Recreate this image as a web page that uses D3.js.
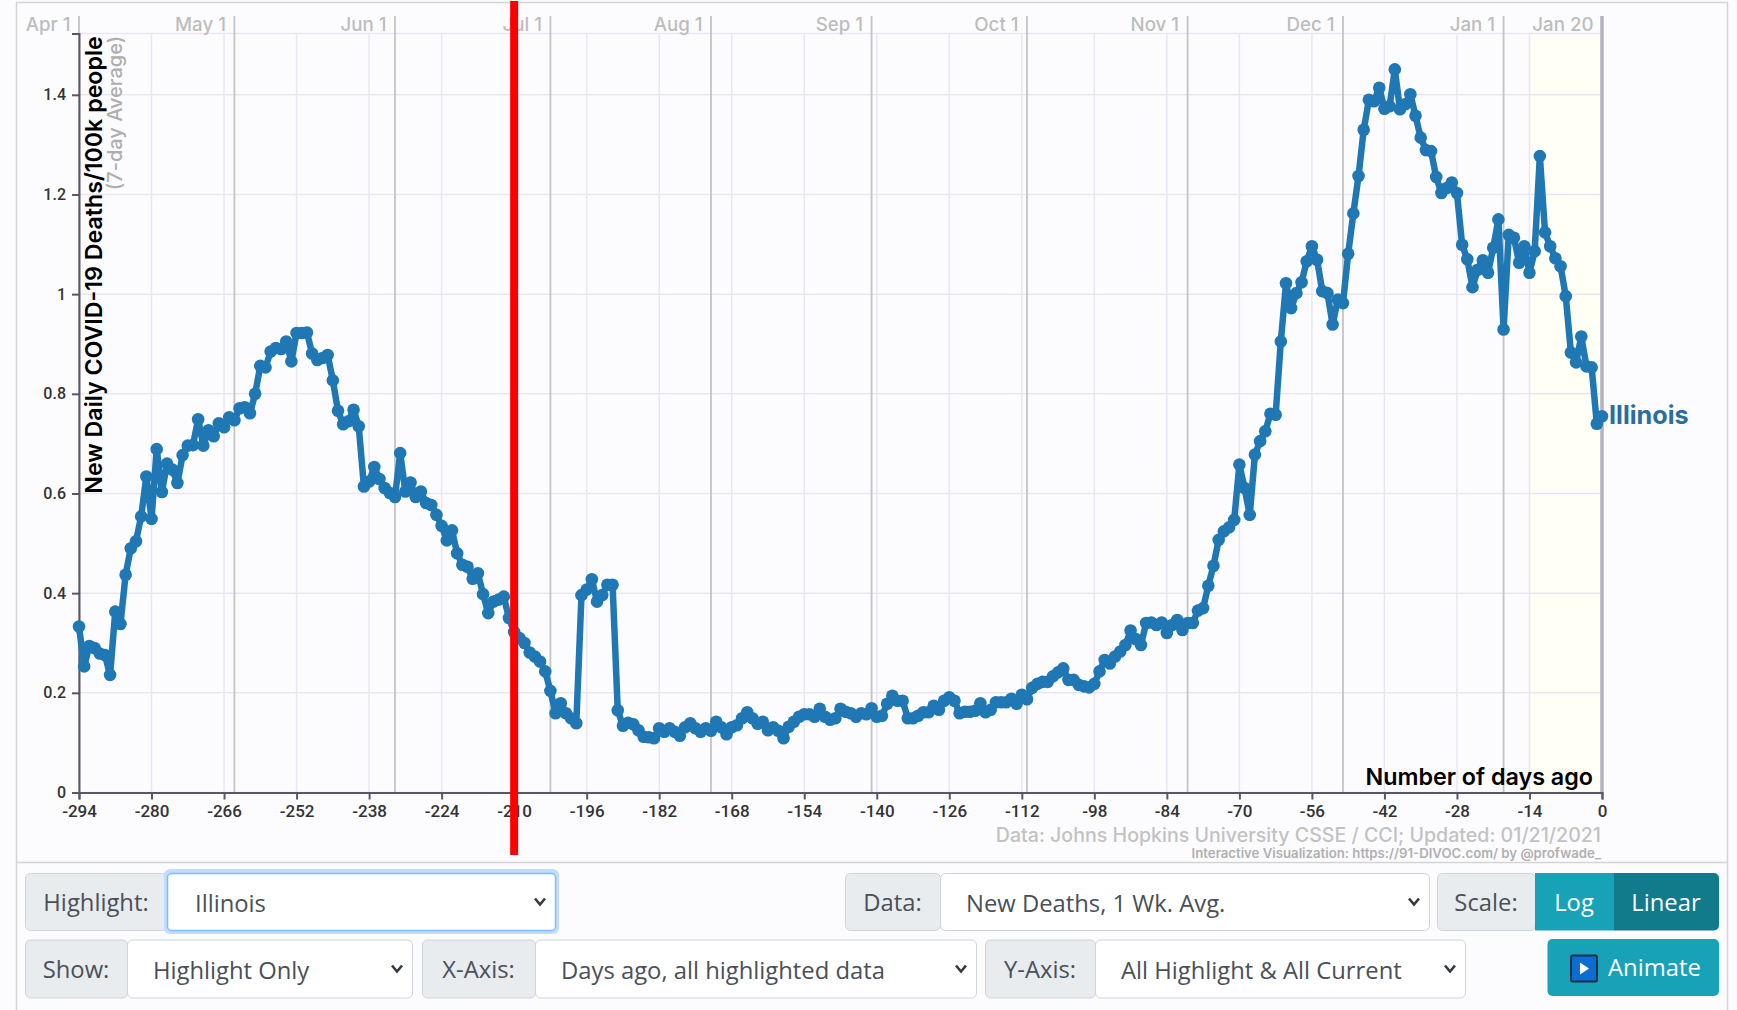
<!DOCTYPE html>
<html>
<head>
<meta charset="utf-8">
<script src="https://cdn.jsdelivr.net/npm/d3@7"></script>
<style>
html,body{margin:0;padding:0;background:#fcfcff;overflow:hidden}
svg{display:block}
text{font-family:Inter,"Noto Sans",sans-serif}
.tick text{font-family:Roboto,sans-serif;font-weight:500;fill:#333}
.ui{font-family:"Open Sans",sans-serif;font-size:23.8px;fill:#495057}
</style>
</head>
<body>
<svg id="c" width="1737" height="1010"></svg>
<script>
const seriesName = "Illinois";
// New deaths per 100k, 7-day average, from 294 days ago to today
const deaths = [
0.333,0.253,0.294,0.290,0.279,0.276,0.236,0.363,0.338,0.437,0.490,0.504,0.554,0.634,0.549,
0.689,0.603,0.660,0.648,0.621,0.677,0.696,0.697,0.749,0.696,0.727,0.715,0.741,0.733,0.753,
0.747,0.771,0.773,0.761,0.800,0.856,0.853,0.885,0.892,0.890,0.905,0.865,0.922,0.922,0.923,
0.881,0.868,0.872,0.878,0.827,0.766,0.739,0.745,0.768,0.735,0.614,0.624,0.653,0.629,0.611,
0.601,0.593,0.681,0.604,0.622,0.593,0.604,0.581,0.577,0.557,0.535,0.506,0.526,0.480,0.457,
0.453,0.429,0.440,0.398,0.360,0.383,0.387,0.393,0.350,0.322,0.310,0.300,0.281,0.273,0.263,
0.243,0.204,0.159,0.179,0.159,0.149,0.139,0.396,0.407,0.428,0.383,0.396,0.417,0.417,0.165,
0.134,0.140,0.137,0.125,0.112,0.111,0.109,0.129,0.122,0.129,0.122,0.114,0.131,0.139,0.129,
0.122,0.129,0.124,0.142,0.131,0.117,0.131,0.135,0.149,0.161,0.149,0.138,0.142,0.125,0.131,
0.124,0.109,0.132,0.142,0.152,0.157,0.157,0.152,0.168,0.152,0.146,0.149,0.168,0.162,0.159,
0.152,0.159,0.157,0.169,0.152,0.154,0.178,0.194,0.184,0.184,0.149,0.149,0.154,0.161,0.161,
0.174,0.166,0.184,0.191,0.184,0.159,0.162,0.162,0.164,0.179,0.161,0.166,0.181,0.181,0.181,
0.188,0.178,0.196,0.187,0.210,0.218,0.222,0.222,0.233,0.241,0.249,0.226,0.226,0.216,0.213,
0.211,0.218,0.243,0.266,0.259,0.273,0.283,0.296,0.325,0.308,0.296,0.340,0.341,0.336,0.341,
0.320,0.336,0.346,0.326,0.340,0.340,0.365,0.370,0.415,0.455,0.507,0.524,0.532,0.547,0.658,
0.611,0.557,0.678,0.705,0.725,0.760,0.758,0.905,1.022,0.972,1.002,1.024,1.066,1.096,1.069,
1.006,1.002,0.939,0.989,0.982,1.081,1.162,1.237,1.330,1.390,1.387,1.414,1.372,1.377,1.451,
1.371,1.381,1.401,1.358,1.314,1.289,1.287,1.235,1.203,1.213,1.224,1.203,1.099,1.070,1.014,
1.049,1.068,1.043,1.093,1.150,0.929,1.119,1.113,1.063,1.096,1.043,1.086,1.277,1.124,1.096,
1.072,1.056,0.996,0.883,0.863,0.915,0.855,0.853,0.740,0.755];
const xTicks = d3.range(-294, 1, 14);
const yTicks = [0, 0.2, 0.4, 0.6, 0.8, 1, 1.2, 1.4];
const monthLabels = ["Apr 1","May 1","Jun 1","Jul 1","Aug 1","Sep 1","Oct 1","Nov 1","Dec 1","Jan 1","Jan 20"];
const monthDays = [-294,-264,-233,-203,-172,-141,-111,-80,-50,-19,0];
const markerDay = -210;
const recentBand = [-14, 0];
const yTop = 1.523;

const svg = d3.select("#c");
const x = d3.scaleLinear().domain([-294, 0]).range([79, 1602]);
const y = d3.scaleLinear().domain([0, yTop]).range([792.5, 33.5]);
const points = deaths.map((v, i) => ({ day: i - 294, v }));
const yMonthTop = 16;

// card frame
svg.append("rect").attr("x",16.5).attr("y",2.5).attr("width",1711).attr("height",1020)
  .attr("fill","#fcfcff").attr("stroke","#d4d4d4").attr("stroke-width",1.5);
svg.append("line").attr("x1",16).attr("x2",1728).attr("y1",862.5).attr("y2",862.5)
  .attr("stroke","#d4d4d4").attr("stroke-width",1.5);

// recent band
svg.append("rect").attr("x",x(recentBand[0])).attr("y",y(yTop))
  .attr("width",x(recentBand[1])-x(recentBand[0])).attr("height",y(0)-y(yTop)).attr("fill","#fffff6");

// grid
const gridColor = "#ebe5f2";
svg.append("g").selectAll("line").data(xTicks).join("line")
  .attr("x1",d=>x(d)).attr("x2",d=>x(d)).attr("y1",y(yTop)).attr("y2",y(0))
  .attr("stroke",gridColor).attr("stroke-width",1.5);
svg.append("g").selectAll("line").data(yTicks.concat([yTop])).join("line")
  .attr("x1",x(-294)).attr("x2",x(0)).attr("y1",d=>y(d)).attr("y2",d=>y(d))
  .attr("stroke",gridColor).attr("stroke-width",1.5);

// month lines
const mg = svg.append("g");
mg.selectAll("line").data(monthDays).join("line")
  .attr("x1",d=>x(d)).attr("x2",d=>x(d)).attr("y1",yMonthTop).attr("y2",y(0))
  .attr("stroke",d=>d===0?"#b4b0bd":"#c4c4c4").attr("stroke-width",d=>d===0?3.5:1.8);
mg.selectAll("text").data(monthDays).join("text")
  .attr("x",d=>x(d)-8.5).attr("y",31).attr("text-anchor","end")
  .attr("font-size",18.7).attr("font-weight",500).attr("fill","#bdbdbd")
  .text((d,i)=>monthLabels[i]);

// axes
const gx = svg.append("g").attr("transform",`translate(0,${y(0)})`)
  .call(d3.axisBottom(x).tickValues(xTicks).tickFormat(d=>d).tickSizeOuter(0).tickSize(7).tickPadding(5));
const gy = svg.append("g").attr("transform",`translate(${x(-294)},0)`)
  .call(d3.axisLeft(y).tickValues(yTicks).tickFormat(d=>d).tickSize(7).tickPadding(6));
gx.selectAll(".domain,.tick line").attr("stroke","#5a5666").attr("stroke-width",2);
gy.selectAll(".domain,.tick line").attr("stroke","#5a5666").attr("stroke-width",2);
gx.selectAll(".tick text").attr("font-size",17);
gy.selectAll(".tick text").attr("font-size",16);

// axis titles
svg.append("text").attr("transform",`translate(102,265) rotate(-90)`).attr("text-anchor","middle")
  .attr("font-size",23.2).attr("font-weight",600).attr("fill","#000")
  .text("New Daily COVID-19 Deaths/100k people");
svg.append("text").attr("transform",`translate(122,113) rotate(-90)`).attr("text-anchor","middle")
  .attr("font-size",20).attr("font-weight",500).attr("fill","#aeaeae")
  .text("(7-day Average)");
svg.append("text").attr("x",1593).attr("y",785).attr("text-anchor","end")
  .attr("font-size",23.3).attr("font-weight",600).attr("fill","#000").text("Number of days ago");
svg.append("text").attr("x",1601).attr("y",842).attr("text-anchor","end")
  .attr("font-size",19.6).attr("font-weight",500).attr("fill","#c2c2c2")
  .text("Data: Johns Hopkins University CSSE / CCI; Updated: 01/21/2021");
svg.append("text").attr("x",1601).attr("y",858).attr("text-anchor","end")
  .attr("font-size",13.2).attr("font-weight",600).attr("fill","#b0b0b0")
  .text("Interactive Visualization: https://91-DIVOC.com/ by @profwade_");

// series
const line = d3.line().x(d=>x(d.day)).y(d=>y(d.v));
svg.append("path").datum(points).attr("d",line).attr("fill","none")
  .attr("stroke","#1f77b4").attr("stroke-width",6.5).attr("stroke-linejoin","round");
svg.append("g").selectAll("circle").data(points).join("circle")
  .attr("cx",d=>x(d.day)).attr("cy",d=>y(d.v)).attr("r",6.3).attr("fill","#1f77b4");
svg.append("text").attr("x",x(0)+7).attr("y",y(deaths[deaths.length-1])+7.5)
  .attr("font-size",25.2).attr("font-weight",700).attr("fill","#2a6d9e").text(seriesName);

// red marker
svg.append("line").attr("x1",x(markerDay)).attr("x2",x(markerDay)).attr("y1",1).attr("y2",855)
  .attr("stroke","#ff0000").attr("stroke-width",8);

// controls
const labelBg="#e9ecef", bd="#ced4da", txt="#495057";
function chevron(cx, cy){
  svg.append("path").attr("d",`M${cx-5},${cy-3}L${cx},${cy+3}L${cx+5},${cy-3}`)
    .attr("fill","none").attr("stroke","#343a40").attr("stroke-width",2.6);
}
function group(x0,x1,x2,y0,y1,label,value,focus){
  const g = svg.append("g");
  g.append("rect").attr("x",x0+.5).attr("y",y0+.5).attr("width",x1-x0).attr("height",y1-y0)
    .attr("rx",5).attr("fill",labelBg).attr("stroke",bd);
  g.append("text").attr("class","ui").attr("x",(x0+x1)/2).attr("y",(y0+y1)/2+9).attr("text-anchor","middle").text(label);
  if(value!==null){
    if(focus){
      g.append("rect").attr("x",x1-3).attr("y",y0-4).attr("width",x2-x1+7).attr("height",y1-y0+8)
        .attr("rx",6).attr("fill","#bfdeff");
    }
    g.append("rect").attr("x",x1+.5).attr("y",y0+.5).attr("width",x2-x1).attr("height",y1-y0)
      .attr("rx",focus?4:5).attr("fill","#fff").attr("stroke",focus?"#80bdff":bd).attr("stroke-width",focus?1.5:1);
    g.append("text").attr("class","ui").attr("x",x1+(focus?28:26)).attr("y",(y0+y1)/2+10.5).text(value);
    chevron(x2-15,(y0+y1)/2);
  }
}
group(25,167,555,873,930,"Highlight:","Illinois",true);
group(845,940,1429,873,930,"Data:","New Deaths, 1 Wk. Avg.",false);
group(1437,1535,1535,873,930,"Scale:",null,false);
svg.append("rect").attr("x",1535).attr("y",873).attr("width",79).attr("height",57.5).attr("fill","#17a2b8");
svg.append("path").attr("d","M1614,873H1714a5,5 0 0 1 5,5V925.5a5,5 0 0 1 -5,5H1614Z").attr("fill","#117a8b");
svg.append("text").attr("class","ui").style("fill","#fff").attr("x",1574).attr("y",911).attr("text-anchor","middle").text("Log");
svg.append("text").attr("class","ui").style("fill","#fff").attr("x",1666).attr("y",911).attr("text-anchor","middle").text("Linear");
group(25,127,412,939.5,997.5,"Show:","Highlight Only",false);
group(422,535,976,939.5,997.5,"X-Axis:","Days ago, all highlighted data",false);
group(985,1095,1465,939.5,997.5,"Y-Axis:","All Highlight & All Current",false);
svg.append("rect").attr("x",1547.5).attr("y",939).attr("width",171.5).attr("height",57).attr("rx",5).attr("fill","#17a2b8");
svg.append("rect").attr("x",1571).attr("y",955.5).attr("width",26).attr("height",26).attr("rx",2).attr("fill","#0a6ed1").attr("stroke","#0b2e4f").attr("stroke-width",2);
svg.append("path").attr("d","M1580,962.5L1589,968.5L1580,974.5Z").attr("fill","#fff");
svg.append("text").attr("class","ui").style("fill","#fff").attr("x",1608).attr("y",976).text("Animate");
</script>
</body>
</html>
